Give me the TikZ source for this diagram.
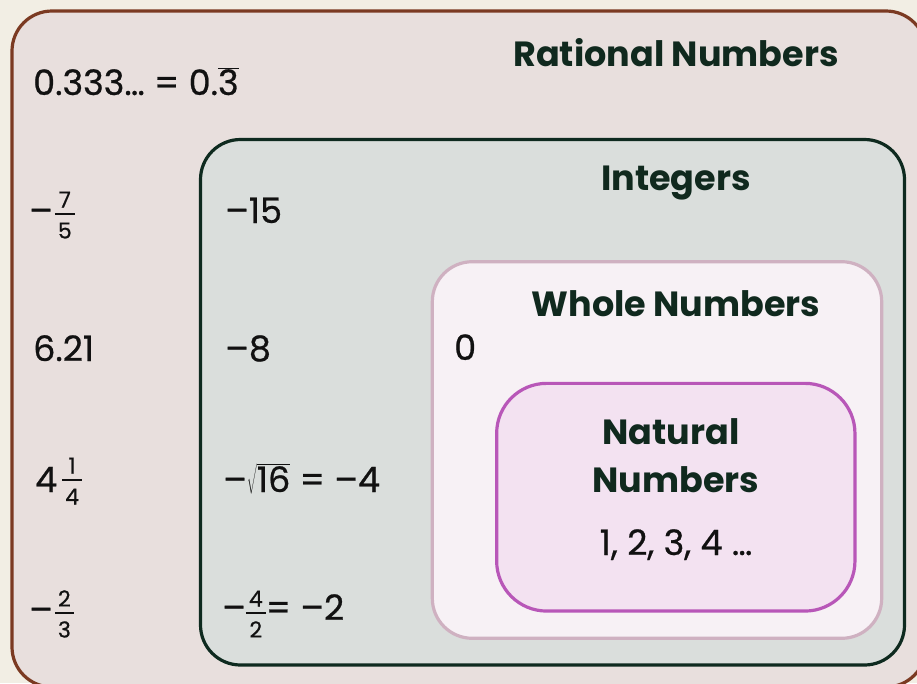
\documentclass[tikz,border=0pt]{standalone}
\usepackage{fontspec}
\setmainfont{Poppins}
\newfontfamily\numfont{Poppins}[FakeBold=0.7]
\definecolor{bgc}{HTML}{F2EEE4}
\definecolor{ratfill}{HTML}{E8DFDD}
\definecolor{ratline}{HTML}{7B3A22}
\definecolor{intfill}{HTML}{DADEDC}
\definecolor{intline}{HTML}{0E2A1F}
\definecolor{wholefill}{HTML}{F7F1F5}
\definecolor{wholeline}{HTML}{CFB1C1}
\definecolor{natfill}{HTML}{F3E2F1}
\definecolor{natline}{HTML}{B857B8}
\definecolor{titlec}{HTML}{10291E}
\definecolor{numc}{HTML}{111111}
\newdimen\frw \newdimen\frb \newbox\frnum \newbox\frden
\newcommand\frc[3][9pt]{{\fontsize{22}{22}\selectfont
  \frb=#1\relax
  \setbox\frnum=\hbox{#2}\setbox\frden=\hbox{#3}%
  \frw=\wd\frnum \ifdim\wd\frden>\frw \frw=\wd\frden\fi \advance\frw by 6pt
  \hbox to\frw{\rlap{\hbox to\frw{\hss\raise\dimexpr\frb+6.5pt\relax\box\frnum\hss}}%
    \rlap{\hbox to\frw{\hss\lower\dimexpr 24.5pt-\frb\relax\box\frden\hss}}%
    \rlap{\raise\dimexpr\frb-0.75pt\relax\hbox{\vrule width\frw height1.6pt depth0pt}}\hss}}}
\begin{document}
\begin{tikzpicture}[x=1pt,y=-1pt,
  box/.style={line width=3.2pt, inner sep=0pt},
  title/.style={font=\fontsize{35}{40}\selectfont\bfseries, text=titlec, inner sep=0pt, anchor=base},
  num/.style={font=\numfont\fontsize{35}{40}\selectfont, text=numc, inner sep=0pt, anchor=base west}]
\useasboundingbox (0,0) rectangle (917,683);
\clip (0,0) rectangle (917,683);
\fill[bgc] (0,0) rectangle (917,683);
\node[box, draw=ratline, fill=ratfill, rounded corners=40pt, minimum width=914pt, minimum height=676pt] (rat) at (469,349) {};
\node[box, draw=intline, fill=intfill, rounded corners=40pt, minimum width=704pt, minimum height=525.5pt] (int) at (552.5,402.25) {};
\node[box, draw=wholeline, fill=wholefill, rounded corners=40pt, minimum width=449.4pt, minimum height=376.6pt] (whole) at (657,450) {};
\node[box, draw=natline, fill=natfill, rounded corners=50pt, minimum width=358.3pt, minimum height=227.7pt] (nat) at (675.8,497.2) {};

\node[title] (tRat) at (676,66) {Rational Numbers};
\node[title] (tInt) at (676,190) {Integers};
\node[title] (tWhole) at (676,316) {Whole Numbers};
\node[title] (tNat1) at (671,444) {Natural};
\node[title] (tNat2) at (676,492) {Numbers};
\node[num, anchor=base] (natlist) at (676,555) {1, 2, 3, 4 …};
\node[num] (zero) at (454,360) {0};
\node[num] (rep) at (33,95) {0.333… = 0.$\overline{\hbox{3}}$};
\node[num] (q1) at (29,223) {–\hspace{2pt}\frc[9pt]{7}{5}};
\node[num] (q2) at (33,361) {6.21};
\node[num] (q3) at (35,492) {4\hspace{5pt}\frc[12pt]{1}{4}};
\node[num] (q4) at (29,622) {–\hspace{2pt}\frc[9pt]{2}{3}};
\node[num] (i1) at (225,223) {–15};
\node[num] (i2) at (225,361) {–8};
\node[num] (i3) at (223,492) {–$\sqrt{\hbox{16}}$ = –4};
\node[num] (i4) at (222,620) {–\frc[7pt]{4}{2}= –2};
\end{tikzpicture}
\end{document}
